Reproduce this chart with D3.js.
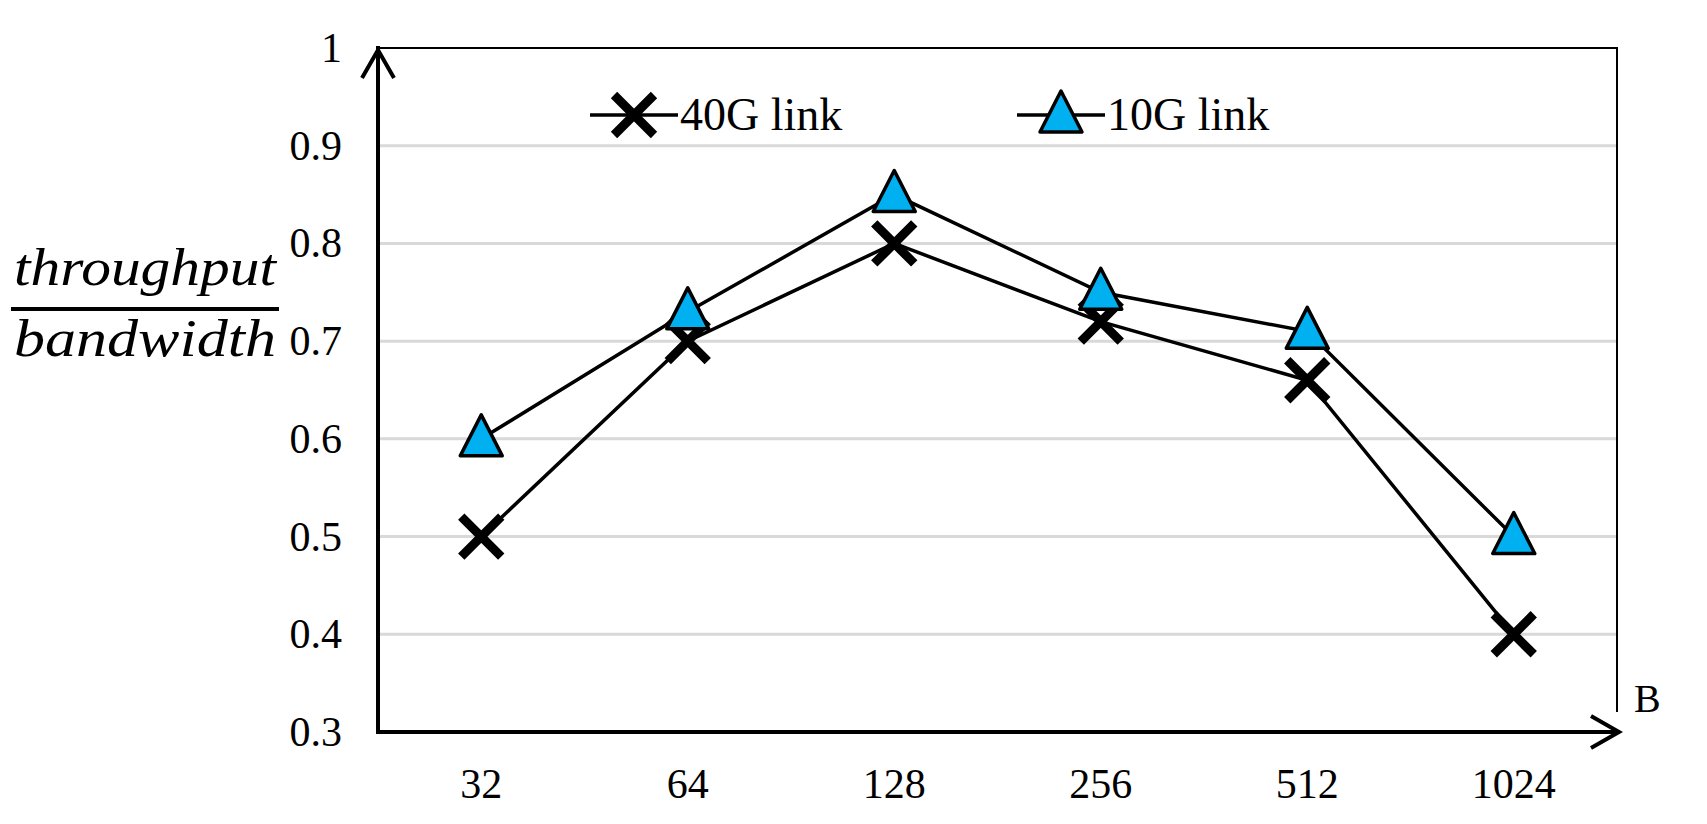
<!DOCTYPE html>
<html><head><meta charset="utf-8">
<script src="https://cdn.jsdelivr.net/npm/d3@7"></script>
<style>body{margin:0;background:#fff}text{font-family:"Liberation Serif","Times New Roman",serif}</style>
</head><body><svg></svg>
<script>
'use strict';
var sizes = ['32', '64', '128', '256', '512', '1024'];
var link40 = [0.5, 0.7, 0.8, 0.72, 0.66, 0.4];
var link10 = [0.6, 0.73, 0.85, 0.75, 0.71, 0.5];
var yTicks = [0.3, 0.4, 0.5, 0.6, 0.7, 0.8, 0.9, 1];

var W = 1707, H = 824;
var M = {left: 378, right: 90, top: 48, bottom: 90};
var svg = d3.select('svg').attr('width', W).attr('height', H);

var x = d3.scaleBand().domain(sizes).range([M.left, W - M.right]).padding(0);
var y = d3.scaleLinear().domain([0.3, 1]).range([H - M.bottom - 2, M.top]);
var cx = function(d, i){ return x(sizes[i]) + x.bandwidth() / 2; };

// grid
svg.append('g').selectAll('line').data(yTicks.slice(1, -1)).enter().append('line')
  .attr('x1', M.left).attr('x2', W - M.right)
  .attr('y1', function(d){return y(d)}).attr('y2', function(d){return y(d)})
  .attr('stroke', '#d9d9d9').attr('stroke-width', 3);

// border top/right
svg.append('path')
  .attr('d', 'M' + M.left + ',' + y(1) + 'H' + (W - M.right) + 'V' + (y(0.3) - 20))
  .attr('fill', 'none').attr('stroke', '#000').attr('stroke-width', 2);

// axes with arrows
svg.append('path').attr('d', 'M' + M.left + ',' + y(0.3) + 'V' + (y(1) - 2))
  .attr('stroke', '#000').attr('stroke-width', 4).attr('fill', 'none');
svg.append('path').attr('d', 'M' + (M.left - 16) + ',' + (y(1) + 30) + 'L' + M.left + ',' + (y(1) + 2) + 'L' + (M.left + 16) + ',' + (y(1) + 30))
  .attr('stroke', '#000').attr('stroke-width', 4).attr('fill', 'none');
svg.append('path').attr('d', 'M' + (M.left - 2) + ',' + y(0.3) + 'H' + (W - M.right + 3))
  .attr('stroke', '#000').attr('stroke-width', 4).attr('fill', 'none');
svg.append('path').attr('d', 'M' + (W - M.right - 26) + ',' + (y(0.3) - 16) + 'L' + (W - M.right + 2) + ',' + y(0.3) + 'L' + (W - M.right - 26) + ',' + (y(0.3) + 16))
  .attr('stroke', '#000').attr('stroke-width', 4).attr('fill', 'none');

// tick labels
svg.append('g').selectAll('text').data(yTicks).enter().append('text')
  .attr('x', 342).attr('y', function(d){return y(d) + 14})
  .attr('text-anchor', 'end').attr('font-size', 42)
  .text(function(d){return d});
svg.append('g').selectAll('text').data(sizes).enter().append('text')
  .attr('x', function(d){return x(d) + x.bandwidth() / 2}).attr('y', 798)
  .attr('text-anchor', 'middle').attr('font-size', 42)
  .text(function(d){return d});
svg.append('text').attr('x', 1634).attr('y', 712).attr('font-size', 40).text('B');

// y label as fraction
svg.append('text').attr('x', 145).attr('y', 285).attr('text-anchor', 'middle')
  .attr('font-size', 52).attr('font-style', 'italic').attr('font-family', 'DejaVu Serif')
  .attr('textLength', 262).attr('lengthAdjust', 'spacingAndGlyphs').text('throughput');
svg.append('line').attr('x1', 11).attr('x2', 279).attr('y1', 309).attr('y2', 309)
  .attr('stroke', '#000').attr('stroke-width', 4);
svg.append('text').attr('x', 145).attr('y', 356).attr('text-anchor', 'middle')
  .attr('font-size', 52).attr('font-style', 'italic').attr('font-family', 'DejaVu Serif')
  .attr('textLength', 262).attr('lengthAdjust', 'spacingAndGlyphs').text('bandwidth');

var line = d3.line().x(cx).y(function(d){return y(d)});
function xMark(g, px, py) {
  g.append('path').attr('d', 'M' + (px - 20) + ',' + (py - 20) + 'L' + (px + 20) + ',' + (py + 20) + 'M' + (px - 20) + ',' + (py + 20) + 'L' + (px + 20) + ',' + (py - 20))
    .attr('stroke', '#000').attr('stroke-width', 9);
}
function triMark(g, px, py) {
  g.append('path').attr('d', 'M' + px + ',' + (py - 24) + 'L' + (px + 21) + ',' + (py + 17) + 'L' + (px - 21) + ',' + (py + 17) + 'Z')
    .attr('fill', '#00b0f0').attr('stroke', '#000').attr('stroke-width', 3.5).attr('stroke-linejoin', 'round');
}

svg.append('path').datum(link40).attr('d', line).attr('fill', 'none').attr('stroke', '#000').attr('stroke-width', 3.5);
svg.append('path').datum(link10).attr('d', line).attr('fill', 'none').attr('stroke', '#000').attr('stroke-width', 3.5);
var m40 = svg.append('g');
link40.forEach(function(d, i){ xMark(m40, cx(d, i), y(d)); });
var m10 = svg.append('g');
link10.forEach(function(d, i){ triMark(m10, cx(d, i), y(d)); });

// legend
var legY = 115;
var lg = svg.append('g');
lg.append('line').attr('x1', 590).attr('x2', 678).attr('y1', legY).attr('y2', legY).attr('stroke', '#000').attr('stroke-width', 3.5);
xMark(lg, 634, legY);
lg.append('text').attr('x', 680).attr('y', legY + 15).attr('font-size', 46).text('40G link');
lg.append('line').attr('x1', 1017).attr('x2', 1105).attr('y1', legY).attr('y2', legY).attr('stroke', '#000').attr('stroke-width', 3.5);
triMark(lg, 1061, legY);
lg.append('text').attr('x', 1107).attr('y', legY + 15).attr('font-size', 46).text('10G link');
</script></body></html>
